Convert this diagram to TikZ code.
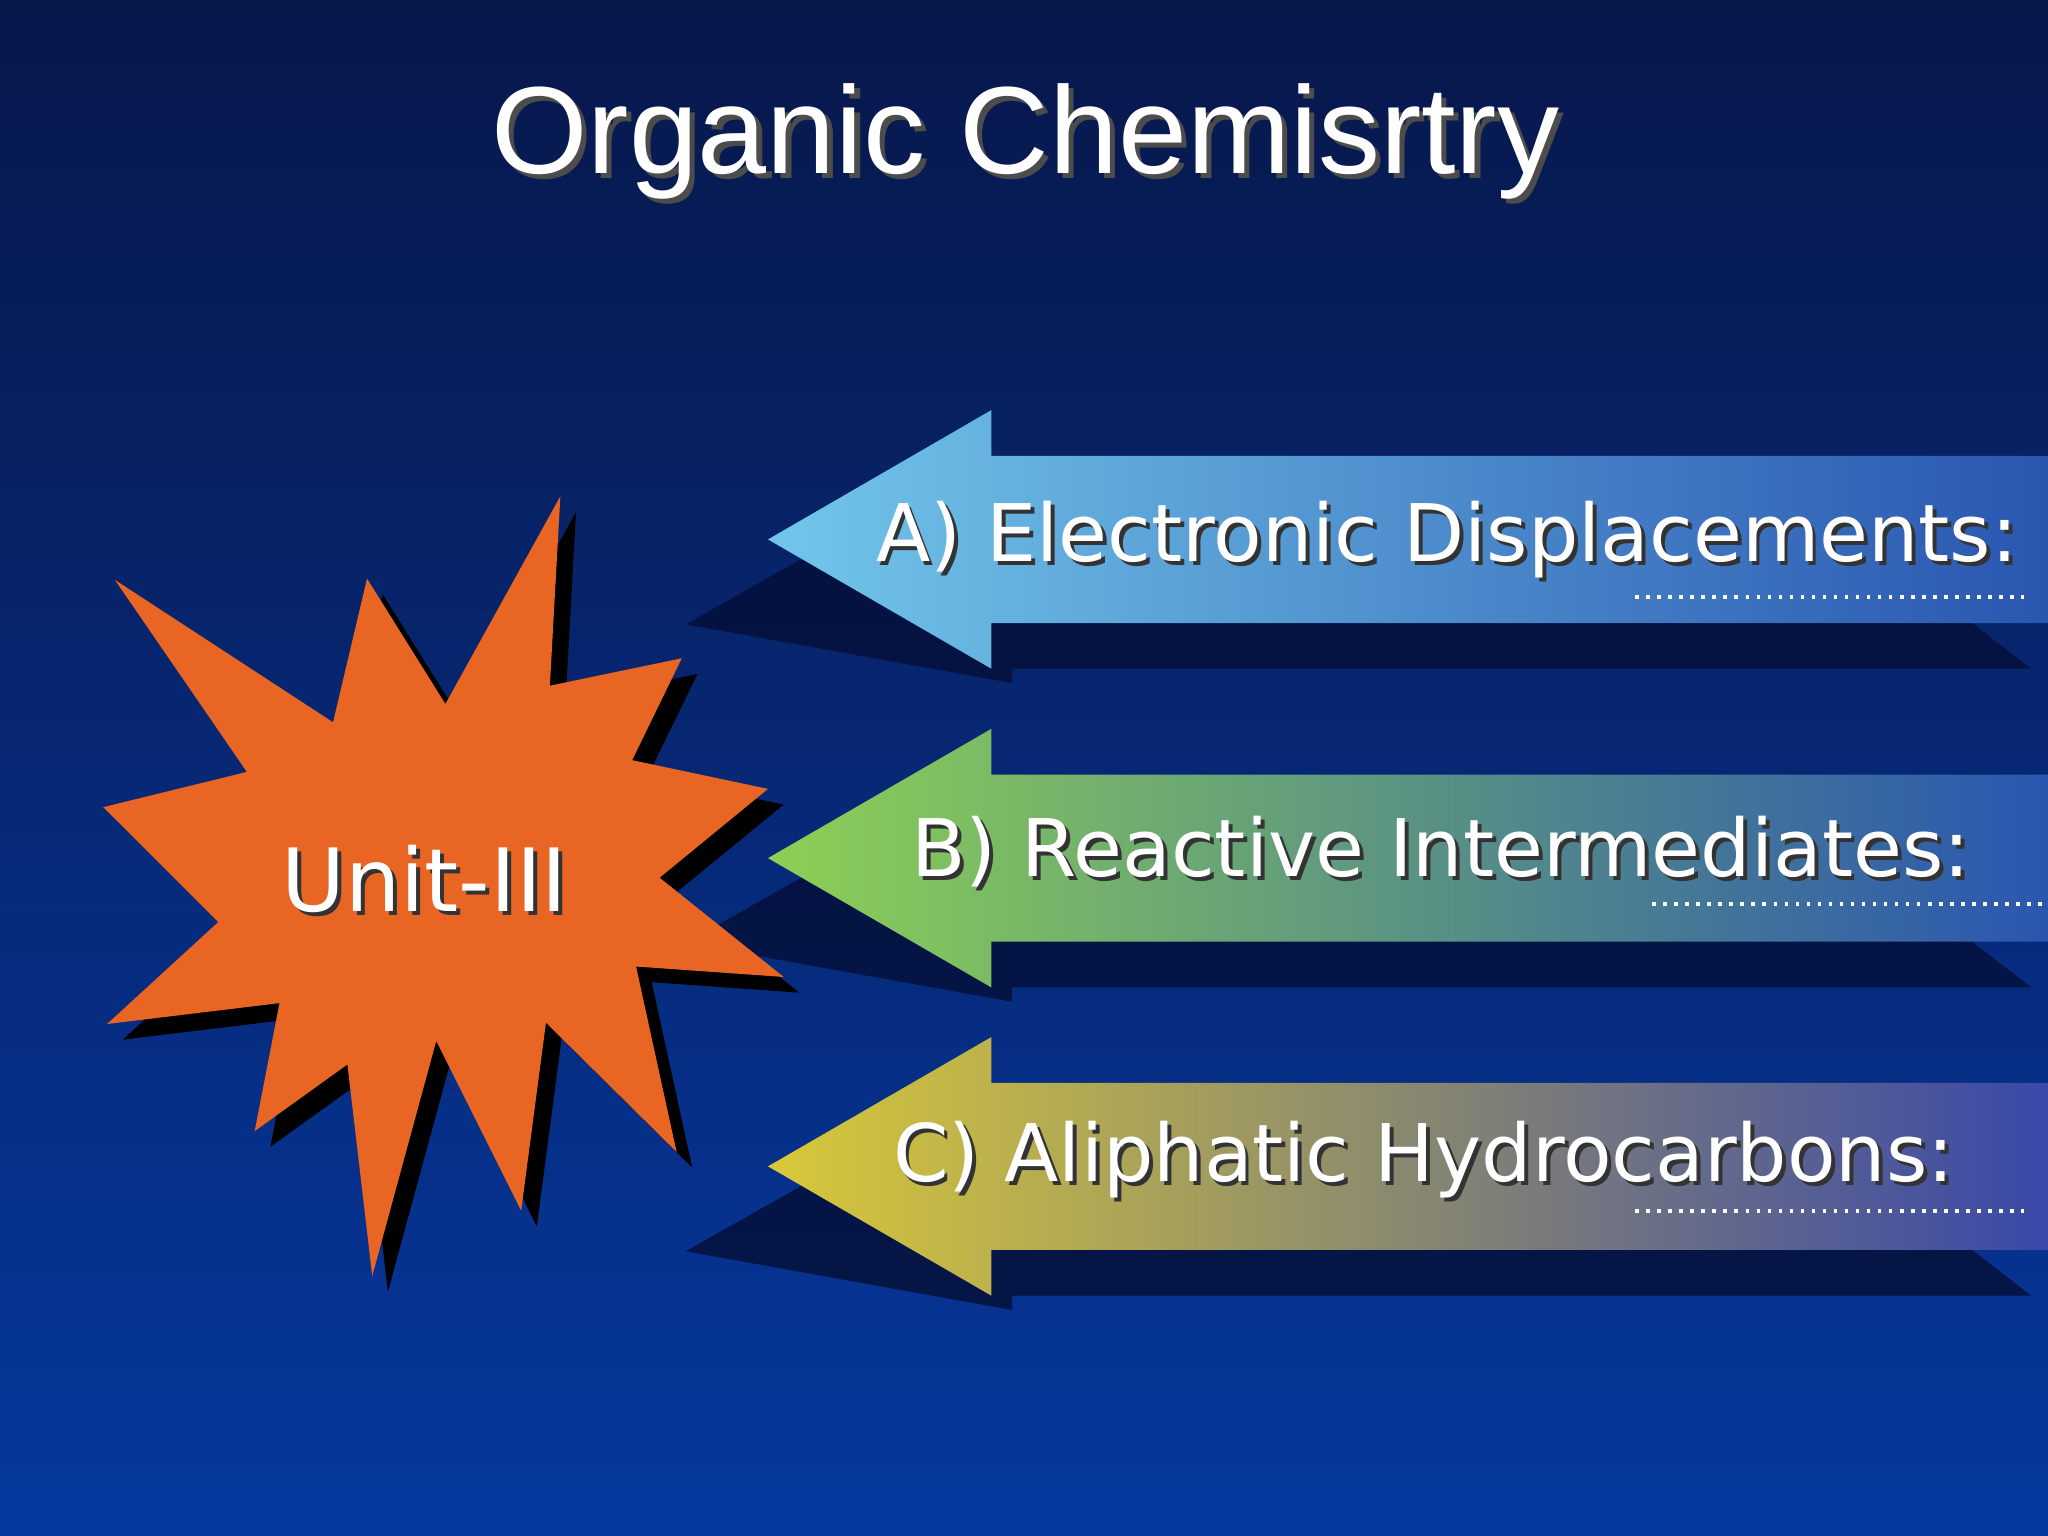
\documentclass[tikz,border=0pt]{standalone}
\usepackage{fontspec}
\setmainfont{DejaVu Sans}
\newfontfamily\titlefont{Liberation Sans}
\definecolor{bgtop}{HTML}{07174A}
\definecolor{bgbot}{HTML}{06389E}
\definecolor{starc}{HTML}{E86524}
\definecolor{ablue}{HTML}{72C6EA}
\definecolor{bgreen}{HTML}{8CD055}
\definecolor{cyel}{HTML}{D8C838}
\definecolor{rblue}{HTML}{2A56B0}
\definecolor{rpurp}{HTML}{3A48A8}
\definecolor{shad}{HTML}{04103A}
\tikzset{
  lbl/.style={text=white,font=\fontsize{17.3}{20}\selectfont,anchor=west,inner sep=0pt},
  lblsh/.style={text=black!80,font=\fontsize{17.3}{20}\selectfont,anchor=west,inner sep=0pt},
  dotl/.style={white,line width=0.8pt,dash pattern=on 0.8pt off 1.6pt},
}
\begin{document}
\begin{tikzpicture}[x=0.01cm,y=-0.01cm]
\useasboundingbox (0,0) rectangle (1568,1176);
\shade[top color=bgtop,bottom color=bgbot] (0,0) rectangle (1568,1176);
% title
\node[text=black!70,font=\titlefont\fontsize{27}{32}\selectfont] at (789,112) {Organic Chemisrtry};
\node (title) [text=white,font=\titlefont\fontsize{27}{32}\selectfont] at (785,108) {Organic Chemisrtry};
% star
\def\starpath{(88,444) -- (255,553) -- (281,443) -- (341,539) -- (429,380) -- (421,525) -- (522,504) -- (484,582) -- (588,604) -- (505,672) -- (600,748) -- (487,740) -- (518,882) -- (418,783) -- (399,927) -- (334,797) -- (285,977) -- (266,815) -- (195,866) -- (214,768) -- (82,784) -- (167,706) -- (79,618) -- (189,591) -- cycle}
\begin{scope}[shift={(12,12)}]
\fill[black] \starpath;
\end{scope}
% arrows
\foreach \yy/\cl/\cr in {413/ablue/rblue, 657/bgreen/rblue, 893/cyel/rpurp}{
  \fill[shad,opacity=0.85] (525,\yy+65) -- (640,\yy) -- (1510,\yy+64) -- (1555,\yy+99) -- (775,\yy+99) -- (775,\yy+110) -- cycle;
  \shade[left color=\cl,right color=\cr,middle color=\cl!50!\cr] (588,\yy) -- (759,\yy-99) -- (759,\yy-64) -- (1568,\yy-64) -- (1568,\yy+64) -- (759,\yy+64) -- (759,\yy+99) -- cycle;
}
\fill[starc] \starpath;
\node (unit) [text=black!80,font=\fontsize{19}{22}\selectfont] at (328,676) {Unit-III};
\node [text=white,font=\fontsize{19}{22}\selectfont] at (325,673) {Unit-III};
% labels
\node[lblsh] at (673,416) {A) Electronic Displacements:};
\node (la) [lbl] at (670,413) {A) Electronic Displacements:};
\node[lblsh] at (700,655) {B) Reactive Intermediates:};
\node (lb) [lbl] at (697,652) {B) Reactive Intermediates:};
\node[lblsh] at (686,891) {C) Aliphatic Hydrocarbons:};
\node (lc) [lbl] at (683,888) {C) Aliphatic Hydrocarbons:};
\draw[dotl] (1252,457) -- (1550,457);
\draw[dotl] (1265,692) -- (1565,692);
\draw[dotl] (1252,927) -- (1550,927);
\end{tikzpicture}
\end{document}
